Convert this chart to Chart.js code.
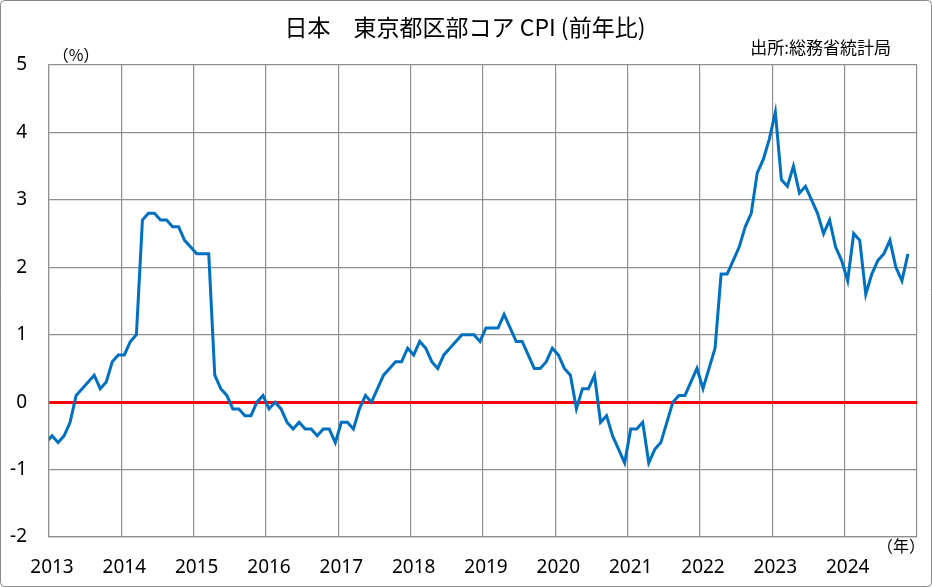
<!DOCTYPE html>
<html>
<head>
<meta charset="utf-8">
<script src="https://cdn.jsdelivr.net/npm/chart.js@4/dist/chart.umd.min.js"></script>
<style>
  html, body { margin: 0; padding: 0; background: #fff; }
  #wrap { width: 932px; height: 587px; }
</style>
</head>
<body>
<div id="wrap"><canvas id="myChart" width="932" height="587"></canvas></div>
<script>
// 東京都区部 コアCPI 前年比(%)、月次。先頭は2012年12月（左端で切れる）
const dec2012 = [-0.6];
const y2013 = [-0.5, -0.6, -0.5, -0.3, 0.1, 0.2, 0.3, 0.4, 0.2, 0.3, 0.6, 0.7];
const y2014 = [0.7, 0.9, 1.0, 2.7, 2.8, 2.8, 2.7, 2.7, 2.6, 2.6, 2.4, 2.3];
const y2015 = [2.2, 2.2, 2.2, 0.4, 0.2, 0.1, -0.1, -0.1, -0.2, -0.2, 0.0, 0.1];
const y2016 = [-0.1, 0.0, -0.1, -0.3, -0.4, -0.3, -0.4, -0.4, -0.5, -0.4, -0.4, -0.6];
const y2017 = [-0.3, -0.3, -0.4, -0.1, 0.1, 0.0, 0.2, 0.4, 0.5, 0.6, 0.6, 0.8];
const y2018 = [0.7, 0.9, 0.8, 0.6, 0.5, 0.7, 0.8, 0.9, 1.0, 1.0, 1.0, 0.9];
const y2019 = [1.1, 1.1, 1.1, 1.3, 1.1, 0.9, 0.9, 0.7, 0.5, 0.5, 0.6, 0.8];
const y2020 = [0.7, 0.5, 0.4, -0.1, 0.2, 0.2, 0.4, -0.3, -0.2, -0.5, -0.7, -0.9];
const y2021 = [-0.4, -0.4, -0.3, -0.9, -0.7, -0.6, -0.3, 0.0, 0.1, 0.1, 0.3, 0.5];
const y2022 = [0.2, 0.5, 0.8, 1.9, 1.9, 2.1, 2.3, 2.6, 2.8, 3.4, 3.6, 3.9];
const y2023 = [4.3, 3.3, 3.2, 3.5, 3.1, 3.2, 3.0, 2.8, 2.5, 2.7, 2.3, 2.1];
const y2024 = [1.8, 2.5, 2.4, 1.6, 1.9, 2.1, 2.2, 2.4, 2.0, 1.8, 2.2];

const years = ["2013", "2014", "2015", "2016", "2017", "2018", "2019", "2020", "2021", "2022", "2023", "2024"];
const yTicks = [-2, -1, 0, 1, 2, 3, 4, 5];

const values = [].concat(dec2012, y2013, y2014, y2015, y2016, y2017, y2018,
    y2019, y2020, y2021, y2022, y2023, y2024);
// 月の中央に点を置く（2013年1月 = 0.5）
const points = values.map((v, i) => ({ x: i - 0.5, y: v }));

const numFont = { family: "'Noto Sans', sans-serif", size: 19 };
const jpFont = "'Noto Sans CJK JP', sans-serif";
const gridGray = "#8f8f8f";

const extras = {
    id: "extras",
    afterDraw(chart) {
        const { ctx, chartArea } = chart;
        ctx.save();
        ctx.fillStyle = "#000";
        ctx.textBaseline = "middle";

        ctx.font = "23px " + jpFont;
        ctx.textAlign = "center";
        ctx.fillText("日本　東京都区部コア CPI (前年比)", 465, 27);

        ctx.font = "17px " + jpFont;
        ctx.textAlign = "right";
        ctx.fillText("出所:総務省統計局", 891, 48);

        ctx.font = "16px " + jpFont;
        ctx.textAlign = "center";
        ctx.fillText("（%）", chartArea.left + 27, chartArea.top - 10);
        ctx.fillText("（年）", chartArea.right - 16, chartArea.bottom + 9);

        ctx.strokeStyle = "#8a8a8a";
        ctx.lineWidth = 1;
        ctx.beginPath();
        ctx.roundRect(0.5, 0.5, 931, 586, 4);
        ctx.stroke();
        ctx.restore();
    }
};

new Chart(document.getElementById("myChart"), {
    type: "line",
    data: {
        datasets: [{
            label: "コアCPI",
            data: points,
            borderColor: "#0070C0",
            borderWidth: 3,
            pointRadius: 0,
            tension: 0,
            clip: 0
        }]
    },
    options: {
        responsive: false,
        animation: false,
        layout: { padding: { top: 65, right: 15, left: 0, bottom: 0 } },
        plugins: {
            legend: { display: false },
            title: { display: false },
            tooltip: { enabled: false }
        },
        scales: {
            x: {
                type: "linear",
                min: 0,
                max: 144,
                afterFit: (s) => {
                    s.height = 50;
                    s.paddingLeft = 0;
                    s.paddingRight = 0;
                },
                ticks: {
                    stepSize: 12,
                    autoSkip: false,
                    maxRotation: 0,
                    padding: 19,
                    labelOffset: 3,
                    color: "#000",
                    font: numFont,
                    callback: (v) => years[v / 12] || ""
                },
                grid: { color: gridGray, lineWidth: 1.2, drawTicks: false },
                border: { color: gridGray, width: 1.2 }
            },
            y: {
                min: yTicks[0],
                max: yTicks[yTicks.length - 1],
                afterFit: (s) => { s.width = 49; },
                afterBuildTicks: (s) => { s.ticks = yTicks.map(v => ({ value: v })); },
                ticks: {
                    padding: 22,
                    color: "#000",
                    font: numFont
                },
                grid: {
                    drawTicks: false,
                    color: (c) => c.tick && c.tick.value === 0 ? "#FF0000" : gridGray,
                    lineWidth: (c) => c.tick && c.tick.value === 0 ? 3 : 1.2
                },
                border: { color: gridGray, width: 1.2 }
            }
        }
    },
    plugins: [extras]
});
</script>
</body>
</html>
